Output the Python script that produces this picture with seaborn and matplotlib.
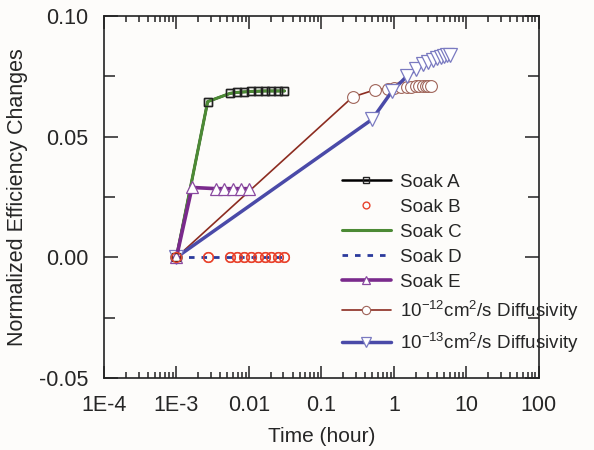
import numpy as np
import pandas as pd
import matplotlib
matplotlib.use("Agg")
import matplotlib.pyplot as plt
import seaborn as sns
from matplotlib.ticker import LogLocator, MultipleLocator, FixedFormatter, FixedLocator

# -------------------------------
# Data
# -------------------------------
soak_x = [0.001, 0.0027, 0.0055, 0.0068, 0.0085, 0.0107, 0.0133, 0.0165, 0.020, 0.025, 0.031]
soak_a_y = [0.0, 0.0646, 0.0680, 0.0684, 0.0686, 0.0688, 0.0689, 0.0690, 0.0690, 0.0690, 0.0690]
soak_b_y = [0.0] * len(soak_x)

soak_e_x = [0.001, 0.00164, 0.0035, 0.0045, 0.0060, 0.0078, 0.0100]
soak_e_y = [0.0, 0.0290, 0.0285, 0.0285, 0.0285, 0.0285, 0.0285]

diff12_x = [0.001, 0.27, 0.55, 0.82, 1.0, 1.25, 1.5, 1.75, 2.0, 2.25, 2.5, 2.75, 3.0, 3.25]
diff12_y = [0.0, 0.0665, 0.0695, 0.0700, 0.0703, 0.0705, 0.0707, 0.0708, 0.0709, 0.0710, 0.0710, 0.0710, 0.0710, 0.0710]

diff13_x = [0.001, 0.5, 0.95, 1.5, 2.0, 2.5, 3.0, 3.5, 4.0, 4.5, 5.0, 5.5, 6.0]
diff13_y = [0.0, 0.0572, 0.0690, 0.0750, 0.0780, 0.0800, 0.0810, 0.0820, 0.0825, 0.0830, 0.0835, 0.0838, 0.0840]

x_ticks = [1e-4, 1e-3, 1e-2, 1e-1, 1, 10, 100]
x_ticklabels = ["1E-4", "1E-3", "0.01", "0.1", "1", "10", "100"]

# -------------------------------
# Style
# -------------------------------
sns.set_style("ticks")
plt.rcParams["font.family"] = ["Liberation Sans", "DejaVu Sans"]
plt.rcParams["mathtext.default"] = "regular"

fig = plt.figure(figsize=(5.94, 4.5), dpi=100, facecolor="#fdfcfa")
ax = fig.add_axes([0.175, 0.16, 0.732, 0.804])
ax.set_facecolor("#fdfcfa")
ax.set_xscale("log")

df_soak = pd.DataFrame({"x": soak_x, "a": soak_a_y, "b": soak_b_y})
df_e = pd.DataFrame({"x": soak_e_x, "y": soak_e_y})
df_12 = pd.DataFrame({"x": diff12_x, "y": diff12_y})
df_13 = pd.DataFrame({"x": diff13_x, "y": diff13_y})

# Soak A (black line + squares)
sns.lineplot(data=df_soak, x="x", y="a", ax=ax, color="black", lw=1.8,
             marker="s", markersize=6, markerfacecolor="none",
             markeredgecolor="#222222", markeredgewidth=1.0, label="Soak A", zorder=3)
# Soak B (red open circles)
sns.lineplot(data=df_soak, x="x", y="b", ax=ax, color="#e8432d", lw=0,
             marker="o", markersize=7, markerfacecolor="none",
             markeredgecolor="#e8432d", markeredgewidth=1.0, label="Soak B", zorder=3)
# Soak C (green line over A)
sns.lineplot(data=df_soak, x="x", y="a", ax=ax, color="#4c8a35", lw=2.2,
             label="Soak C", zorder=4)
# Soak D (blue dashed)
sns.lineplot(data=df_soak, x="x", y="b", ax=ax, color="#2b3a9c", lw=2.0,
             dashes=(2, 2.5), label="Soak D", zorder=4)
# re-draw A and B markers on top of the lines
ax.plot(df_soak["x"], df_soak["a"], ls="none", marker="s", markersize=6,
        markerfacecolor="none", markeredgecolor="#222222", markeredgewidth=1.0, zorder=5)
ax.plot(df_soak["x"], df_soak["b"], ls="none", marker="o", markersize=7,
        markerfacecolor="none", markeredgecolor="#e8432d", markeredgewidth=1.0, zorder=5)

# Soak E (purple + triangles)
sns.lineplot(data=df_e, x="x", y="y", ax=ax, color="#7a2a8c", lw=2.6,
             marker="^", markersize=9, markerfacecolor="white",
             markeredgecolor="#8a4aa0", markeredgewidth=0.9, label="Soak E", zorder=4)

# Diffusivity curves
sns.lineplot(data=df_12, x="x", y="y", ax=ax, color="#8c2c20", lw=1.2,
             marker="o", markersize=8.5, markerfacecolor="white",
             markeredgecolor="#a0655a", markeredgewidth=0.8,
             label="10$^{-12}$cm$^2$/s Diffusivity", zorder=3)
sns.lineplot(data=df_13, x="x", y="y", ax=ax, color="#4a4aa8", lw=2.5,
             marker="v", markersize=9.5, markerfacecolor="white",
             markeredgecolor="#7a7ac0", markeredgewidth=0.9,
             label="10$^{-13}$cm$^2$/s Diffusivity", zorder=3)

# -------------------------------
# Axes
# -------------------------------
ax.set_xlim(1e-4, 100)
ax.set_ylim(-0.05, 0.10)
ax.xaxis.set_major_locator(FixedLocator(x_ticks))
ax.xaxis.set_major_formatter(FixedFormatter(x_ticklabels))
ax.xaxis.set_minor_locator(LogLocator(base=10, subs=np.arange(2, 10), numticks=20))
ax.yaxis.set_major_locator(MultipleLocator(0.05))
ax.yaxis.set_minor_locator(MultipleLocator(0.025))
ax.yaxis.set_major_formatter(matplotlib.ticker.FormatStrFormatter("%.2f"))

ax.tick_params(which="both", direction="in", top=True, right=True,
               labelsize=15.5, width=1.1, color="#222222")
ax.tick_params(axis="x", which="major", length=9, pad=12)
ax.tick_params(axis="y", which="major", length=10, pad=11)
ax.tick_params(axis="x", which="minor", length=4)
ax.tick_params(axis="y", which="minor", length=8)
for s in ax.spines.values():
    s.set_linewidth(1.2)
    s.set_color("#222222")

ax.set_xlabel("Time (hour)", fontsize=15, labelpad=8)
ax.set_ylabel("Normalized Efficiency Changes", fontsize=15.5, labelpad=8)

leg = ax.legend(loc="upper left", bbox_to_anchor=(0.53, 0.585), frameon=False,
                fontsize=13.5, handlelength=2.6, handletextpad=0.5,
                labelspacing=0.42, borderaxespad=0, markerscale=0.7)

fig.savefig("out.png", dpi=100, facecolor=fig.get_facecolor())
